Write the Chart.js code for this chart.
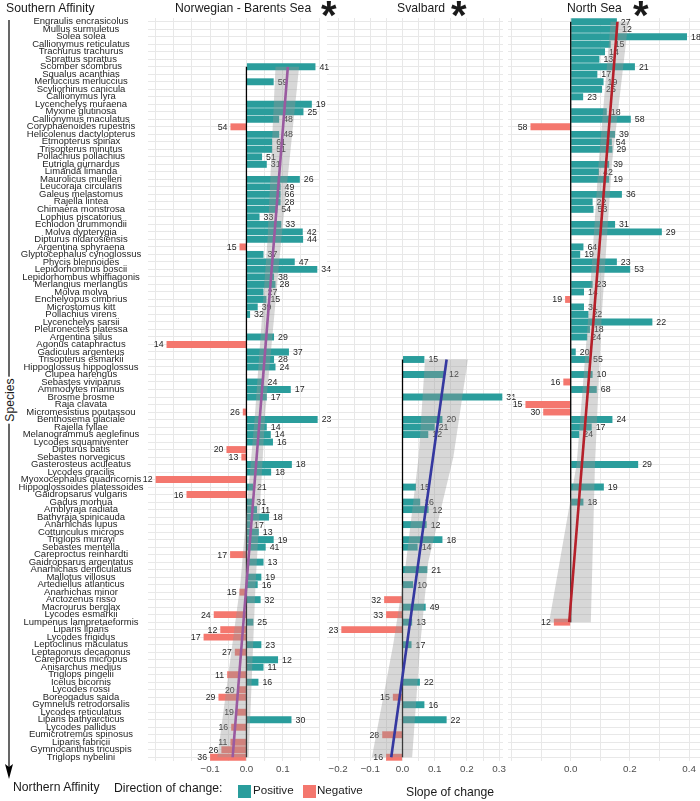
<!DOCTYPE html>
<html>
<head>
<meta charset="utf-8">
<script src="https://cdn.jsdelivr.net/npm/chart.js@4.4.1/dist/chart.umd.min.js"></script>
<style>
  body { margin: 0; background: #fff; }
  #page { position: relative; width: 700px; height: 801px; overflow: hidden; font-family: "Liberation Sans", Arial, sans-serif; color: #1a1a1a; }
  #page canvas { position: absolute; top: 0; }
  .txt { position: absolute; white-space: nowrap; font-size: 12.2px; line-height: 14px; }
  .star { position: absolute; top: -5px; font-size: 40px; font-weight: bold; line-height: 40px; }
  .key { position: absolute; width: 12.5px; height: 12.5px; top: 785px; }
</style>
</head>
<body>
<div id="page">
  <canvas id="nbChart" width="335" height="785" style="left:0"></canvas>
  <canvas id="svChart" width="211" height="785" style="left:312px"></canvas>
  <canvas id="nsChart" width="192" height="785" style="left:508px"></canvas>

  <svg style="position:absolute;left:0;top:0" width="20" height="790">
    <line x1="9" y1="20" x2="9" y2="770" stroke="#000" stroke-width="1.2"/>
    <path d="M5,764 L9,779 L13,764 L9,767 Z" fill="#000"/>
  </svg>
  <div class="txt" style="left:6px;top:1px">Southern Affinity</div>
  <div class="txt" style="left:-14px;top:393px;transform:rotate(-90deg);background:#fff;padding:0 2px">Species</div>
  <div class="txt" style="left:13px;top:780px">Northern Affinity</div>

  <div class="txt" style="left:175px;top:1px">Norwegian - Barents Sea</div>
  <div class="star" style="left:321px">*</div>
  <div class="txt" style="left:397px;top:1px">Svalbard</div>
  <div class="star" style="left:451px">*</div>
  <div class="txt" style="left:567px;top:1px">North Sea</div>
  <div class="star" style="left:633px">*</div>

  <div class="txt" style="left:114px;top:781px">Direction of change:</div>
  <div class="key" style="left:238px;background:#2A9D9C"></div>
  <div class="txt" style="left:253px;top:783px;font-size:11.6px">Positive</div>
  <div class="key" style="left:303px;background:#F4776E"></div>
  <div class="txt" style="left:317px;top:783px;font-size:11.6px">Negative</div>
  <div class="txt" style="left:406px;top:785px">Slope of change</div>
</div>

<script>
// species, ordered from southern to northern affinity
const species = [
  "Engraulis encrasicolus", "Mullus surmuletus", "Solea solea", "Callionymus reticulatus", "Trachurus trachurus",
  "Sprattus sprattus", "Scomber scombrus", "Squalus acanthias", "Merluccius merluccius", "Scyliorhinus canicula",
  "Callionymus lyra", "Lycenchelys muraena", "Myxine glutinosa", "Callionymus maculatus", "Coryphaenoides rupestris",
  "Helicolenus dactylopterus", "Etmopterus spinax", "Trisopterus minutus", "Pollachius pollachius", "Eutrigla gurnardus",
  "Limanda limanda", "Maurolicus muelleri", "Leucoraja circularis", "Galeus melastomus", "Rajella lintea",
  "Chimaera monstrosa", "Lophius piscatorius", "Echiodon drummondii", "Molva dypterygia", "Dipturus nidarosiensis",
  "Argentina sphyraena", "Glyptocephalus cynoglossus", "Phycis blennoides", "Lepidorhombus boscii", "Lepidorhombus whiffiagonis",
  "Merlangius merlangus", "Molva molva", "Enchelyopus cimbrius", "Microstomus kitt", "Pollachius virens",
  "Lycenchelys sarsii", "Pleuronectes platessa", "Argentina silus", "Agonus cataphractus", "Gadiculus argenteus",
  "Trisopterus esmarkii", "Hippoglossus hippoglossus", "Clupea harengus", "Sebastes viviparus", "Ammodytes marinus",
  "Brosme brosme", "Raja clavata", "Micromesistius poutassou", "Benthosema glaciale", "Rajella fyllae",
  "Melanogrammus aeglefinus", "Lycodes squamiventer", "Dipturus batis", "Sebastes norvegicus", "Gasterosteus aculeatus",
  "Lycodes gracilis", "Myoxocephalus quadricornis", "Hippoglossoides platessoides", "Gaidropsarus vulgaris", "Gadus morhua",
  "Amblyraja radiata", "Bathyraja spinicauda", "Anarhichas lupus", "Cottunculus microps", "Triglops murrayi",
  "Sebastes mentella", "Careproctus reinhardti", "Gaidropsarus argentatus", "Anarhichas denticulatus", "Mallotus villosus",
  "Artediellus atlanticus", "Anarhichas minor", "Arctozenus risso", "Macrourus berglax", "Lycodes esmarkii",
  "Lumpenus lampretaeformis", "Liparis liparis", "Lycodes frigidus", "Leptoclinus maculatus", "Leptagonus decagonus",
  "Careproctus micropus", "Anisarchus medius", "Triglops pingelii", "Icelus bicornis", "Lycodes rossi",
  "Boreogadus saida", "Gymnelus retrodorsalis", "Lycodes reticulatus", "Liparis bathyarcticus", "Lycodes pallidus",
  "Eumicrotremus spinosus", "Liparis fabricii", "Gymnocanthus tricuspis", "Triglops nybelini"
];

// Norwegian - Barents Sea
const nbSpecies = [
  "Scomber scombrus", "Merluccius merluccius", "Lycenchelys muraena", "Myxine glutinosa", "Callionymus maculatus",
  "Coryphaenoides rupestris", "Helicolenus dactylopterus", "Etmopterus spinax", "Trisopterus minutus", "Pollachius pollachius",
  "Eutrigla gurnardus", "Maurolicus muelleri", "Leucoraja circularis", "Galeus melastomus", "Rajella lintea",
  "Chimaera monstrosa", "Lophius piscatorius", "Echiodon drummondii", "Molva dypterygia", "Dipturus nidarosiensis",
  "Argentina sphyraena", "Glyptocephalus cynoglossus", "Phycis blennoides", "Lepidorhombus boscii", "Lepidorhombus whiffiagonis",
  "Merlangius merlangus", "Molva molva", "Enchelyopus cimbrius", "Microstomus kitt", "Pollachius virens",
  "Argentina silus", "Agonus cataphractus", "Gadiculus argenteus", "Trisopterus esmarkii", "Hippoglossus hippoglossus",
  "Sebastes viviparus", "Ammodytes marinus", "Brosme brosme", "Micromesistius poutassou", "Benthosema glaciale",
  "Rajella fyllae", "Melanogrammus aeglefinus", "Lycodes squamiventer", "Dipturus batis", "Sebastes norvegicus",
  "Gasterosteus aculeatus", "Lycodes gracilis", "Myoxocephalus quadricornis", "Hippoglossoides platessoides", "Gaidropsarus vulgaris",
  "Gadus morhua", "Amblyraja radiata", "Bathyraja spinicauda", "Anarhichas lupus", "Cottunculus microps",
  "Triglops murrayi", "Sebastes mentella", "Careproctus reinhardti", "Gaidropsarus argentatus", "Mallotus villosus",
  "Artediellus atlanticus", "Anarhichas minor", "Arctozenus risso", "Lycodes esmarkii", "Lumpenus lampretaeformis",
  "Liparis liparis", "Lycodes frigidus", "Leptoclinus maculatus", "Leptagonus decagonus", "Careproctus micropus",
  "Anisarchus medius", "Triglops pingelii", "Icelus bicornis", "Lycodes rossi", "Boreogadus saida",
  "Lycodes reticulatus", "Liparis bathyarcticus", "Lycodes pallidus", "Liparis fabricii", "Gymnocanthus tricuspis",
  "Triglops nybelini"
];
const nbSlope = [
  0.19, 0.075, 0.18, 0.157, 0.09, -0.044, 0.09, 0.071, 0.071, 0.043,
  0.056, 0.147, 0.094, 0.094, 0.094, 0.085, 0.036, 0.096, 0.155, 0.156,
  -0.019, 0.047, 0.133, 0.195, 0.076, 0.08, 0.047, 0.055, 0.031, 0.01,
  0.076, -0.22, 0.117, 0.076, 0.08, 0.047, 0.122, 0.056, -0.01, 0.196,
  0.056, 0.067, 0.073, -0.055, -0.014, 0.125, 0.068, -0.25, 0.018, -0.165,
  0.016, 0.029, 0.062, 0.01, 0.034, 0.075, 0.053, -0.045, 0.047, 0.041,
  0.031, -0.019, 0.039, -0.09, 0.019, -0.072, -0.118, 0.041, -0.032, 0.087,
  0.047, -0.053, 0.033, -0.024, -0.077, -0.026, 0.124, -0.042, -0.044, -0.069,
  -0.1
];
const nbCount = [
  41, 59, 19, 25, 48, 54, 48, 61, 51, 51,
  31, 26, 49, 66, 28, 54, 33, 33, 42, 44,
  15, 37, 47, 34, 38, 28, 27, 15, 39, 32,
  29, 14, 37, 28, 24, 24, 17, 17, 26, 23,
  14, 14, 16, 20, 13, 18, 18, 12, 21, 16,
  31, 11, 18, 17, 13, 19, 41, 17, 13, 19,
  16, 15, 32, 24, 25, 12, 17, 23, 27, 12,
  11, 11, 16, 20, 29, 19, 30, 16, 11, 26,
  36
];
const nbBandRows = ["Scomber scombrus", "Dipturus nidarosiensis", "Micromesistius poutassou", "Artediellus atlanticus", "Triglops nybelini"];
const nbBandLow = [0.080, 0.058, 0.024, -0.017, -0.080];
const nbBandHigh = [0.145, 0.096, 0.052, 0.025, 0.006];
const nbTrend = [0.114, -0.038];

// Svalbard
const svSpecies = [
  "Trisopterus esmarkii", "Clupea harengus", "Brosme brosme", "Benthosema glaciale", "Rajella fyllae",
  "Melanogrammus aeglefinus", "Hippoglossoides platessoides", "Gadus morhua", "Amblyraja radiata", "Anarhichas lupus",
  "Triglops murrayi", "Sebastes mentella", "Anarhichas denticulatus", "Artediellus atlanticus", "Arctozenus risso",
  "Macrourus berglax", "Lycodes esmarkii", "Lumpenus lampretaeformis", "Liparis liparis", "Leptoclinus maculatus",
  "Icelus bicornis", "Boreogadus saida", "Gymnelus retrodorsalis", "Liparis bathyarcticus", "Eumicrotremus spinosus",
  "Triglops nybelini"
];
const svSlope = [
  0.068, 0.132, 0.31, 0.124, 0.1, 0.08, 0.042, 0.055, 0.081, 0.075,
  0.124, 0.047, 0.077, 0.033, -0.057, 0.072, -0.051, 0.03, -0.19, 0.028,
  0.054, -0.03, 0.068, 0.137, -0.063, -0.051
];
const svCount = [
  15, 12, 31, 20, 21, 12, 15, 16, 12, 12,
  18, 14, 21, 10, 32, 49, 33, 13, 23, 17,
  22, 15, 16, 22, 28, 16
];
const svBandRows = ["Trisopterus esmarkii", "Sebastes norvegicus", "Gaidropsarus argentatus", "Leptoclinus maculatus", "Triglops nybelini"];
const svBandLow = [0.070, 0.050, 0.011, -0.029, -0.095];
const svBandHigh = [0.203, 0.158, 0.080, 0.055, 0.030];
const svTrend = [0.137, -0.035];

// North Sea
const nsSpecies = [
  "Engraulis encrasicolus", "Mullus surmuletus", "Solea solea", "Callionymus reticulatus", "Trachurus trachurus",
  "Sprattus sprattus", "Scomber scombrus", "Squalus acanthias", "Merluccius merluccius", "Scyliorhinus canicula",
  "Callionymus lyra", "Myxine glutinosa", "Callionymus maculatus", "Coryphaenoides rupestris", "Helicolenus dactylopterus",
  "Etmopterus spinax", "Trisopterus minutus", "Eutrigla gurnardus", "Limanda limanda", "Maurolicus muelleri",
  "Galeus melastomus", "Rajella lintea", "Chimaera monstrosa", "Echiodon drummondii", "Molva dypterygia",
  "Argentina sphyraena", "Glyptocephalus cynoglossus", "Phycis blennoides", "Lepidorhombus boscii", "Merlangius merlangus",
  "Molva molva", "Enchelyopus cimbrius", "Microstomus kitt", "Pollachius virens", "Lycenchelys sarsii",
  "Pleuronectes platessa", "Argentina silus", "Gadiculus argenteus", "Trisopterus esmarkii", "Clupea harengus",
  "Sebastes viviparus", "Ammodytes marinus", "Raja clavata", "Micromesistius poutassou", "Benthosema glaciale",
  "Rajella fyllae", "Melanogrammus aeglefinus", "Gasterosteus aculeatus", "Hippoglossoides platessoides", "Gadus morhua",
  "Lumpenus lampretaeformis"
];
const nsSlope = [
  0.156, 0.16, 0.393, 0.135, 0.116, 0.097, 0.217, 0.09, 0.111, 0.106,
  0.042, 0.122, 0.203, -0.136, 0.15, 0.139, 0.141, 0.13, 0.096, 0.13,
  0.173, 0.074, 0.077, 0.15, 0.308, 0.043, 0.032, 0.156, 0.201, 0.074,
  0.045, -0.019, 0.045, 0.06, 0.276, 0.065, 0.056, 0.017, 0.062, 0.074,
  -0.025, 0.088, -0.153, -0.093, 0.141, 0.071, 0.029, 0.228, 0.112, 0.043,
  -0.057
];
const nsCount = [
  27, 12, 18, 15, 14, 13, 21, 17, 19, 25,
  23, 18, 58, 58, 39, 54, 29, 39, 42, 19,
  36, 22, 53, 31, 29, 64, 19, 23, 53, 23,
  14, 19, 31, 22, 22, 18, 24, 20, 55, 10,
  16, 68, 15, 30, 24, 17, 24, 29, 19, 18,
  12
];
const nsBandRows = ["Engraulis encrasicolus", "Eutrigla gurnardus", "Pollachius virens", "Gasterosteus aculeatus", "Lumpenus lampretaeformis"];
const nsBandLow = [0.135, 0.094, 0.060, 0.020, -0.073];
const nsBandHigh = [0.195, 0.139, 0.105, 0.082, 0.068];
const nsTrend = [0.158, -0.005];

const FONT = '"Liberation Sans", Arial, sans-serif';
const POS = "#2A9D9C";
const NEG = "#F4776E";
const BAND = "rgba(150,150,150,0.38)";
const GRID = "#E8E8E8";

// species names are centred around x = 81
const measure = document.createElement("canvas").getContext("2d");
measure.font = "9.5px " + FONT;
const widest = Math.max(...species.map(s => measure.measureText(s).width));
const namePad = 148 - 81 - widest / 2;

/* COUNT LABELS next to each bar */
const countLabels = {
  id: "countLabels",
  afterDatasetDraw(chart, args) {
    const ds = chart.data.datasets[args.index];
    if (!ds.counts) return;
    const ctx = chart.ctx;
    ctx.save();
    ctx.font = "8.8px " + FONT;
    ctx.fillStyle = "#1f1f1f";
    ctx.textBaseline = "middle";
    args.meta.data.forEach((bar, i) => {
      if (ds.data[i].x >= 0) {
        ctx.textAlign = "left";
        ctx.fillText(ds.counts[i], bar.x + 4, bar.y + 0.5);
      } else {
        ctx.textAlign = "right";
        ctx.fillText(ds.counts[i], bar.x - 3, bar.y + 0.5);
      }
    });
    ctx.restore();
  }
};

function tickText(v, shown) {
  const r = Math.round(v * 100) / 100;
  if (!shown.some(s => Math.abs(s - r) < 1e-6)) return "";
  return (r < 0 ? "\u2212" : "") + Math.abs(r).toFixed(1);
}

function makePanel(id, p) {
  const first = p.names[0];
  const last = p.names[p.names.length - 1];
  const band = p.bandRows.map((n, i) => ({x: p.bandHigh[i], y: n}))
    .concat(p.bandRows.map((n, i) => ({x: p.bandLow[i], y: n})).reverse());

  return new Chart(document.getElementById(id), {
    type: "bar",
    data: {
      labels: species,
      datasets: [
        {
          type: "bar",
          data: p.names.map((n, i) => ({x: p.slopes[i], y: n})),
          counts: p.counts,
          backgroundColor: p.slopes.map(v => v >= 0 ? POS : NEG),
          barPercentage: 0.92,
          categoryPercentage: 1,
          clip: false,
          order: 4
        },
        {
          type: "line",
          data: [{x: 0, y: first}, {x: 0, y: last}],
          borderColor: "#000",
          borderWidth: 1.3,
          pointRadius: 0,
          order: 3
        },
        {
          type: "line",
          data: band,
          fill: "shape",
          backgroundColor: BAND,
          borderColor: "rgba(0,0,0,0)",
          borderWidth: 0,
          pointRadius: 0,
          order: 2
        },
        {
          type: "line",
          data: [{x: p.trend[0], y: first}, {x: p.trend[1], y: last}],
          borderColor: p.lineColor,
          borderWidth: 2.6,
          pointRadius: 0,
          order: 1
        }
      ]
    },
    options: {
      responsive: false,
      animation: false,
      indexAxis: "y",
      layout: {padding: {top: 18, right: p.padRight || 0, left: p.padLeft || 0, bottom: 0}},
      plugins: {legend: {display: false}, tooltip: {enabled: false}},
      scales: {
        x: {
          type: "linear",
          min: p.min,
          max: p.max,
          border: {display: false},
          grid: {color: GRID, lineWidth: 1, drawTicks: false},
          ticks: {
            stepSize: p.step,
            includeBounds: false,
            autoSkip: false,
            maxRotation: 0,
            padding: 2,
            color: "#4d4d4d",
            font: {family: FONT, size: 9.8},
            callback: v => tickText(v, p.shown)
          },
          afterFit: s => { s.height = 24; s.paddingLeft = 0; s.paddingRight = 0; }
        },
        y: {
          type: "category",
          offset: true,
          border: {display: false},
          grid: {color: GRID, offset: false, drawTicks: false},
          ticks: p.showNames ? {
            autoSkip: false,
            crossAlign: "center",
            padding: namePad,
            color: "#262626",
            font: {family: FONT, size: 9.5}
          } : {display: false},
          afterFit: s => { s.width = p.axisWidth; s.paddingTop = 0; s.paddingBottom = 0; }
        }
      }
    },
    plugins: [countLabels]
  });
}

makePanel("nbChart", {
  names: nbSpecies, slopes: nbSlope, counts: nbCount,
  bandRows: nbBandRows, bandLow: nbBandLow, bandHigh: nbBandHigh, trend: nbTrend,
  lineColor: "#9A5AA0", min: -0.271, max: 0.2025, step: 0.05, shown: [-0.1, 0, 0.1],
  showNames: true, axisWidth: 148, padRight: 15
});

makePanel("svChart", {
  names: svSpecies, slopes: svSlope, counts: svCount,
  bandRows: svBandRows, bandLow: svBandLow, bandHigh: svBandHigh, trend: svTrend,
  lineColor: "#3538A0", min: -0.2345, max: 0.3121, step: 0.05, shown: [-0.2, -0.1, 0, 0.1, 0.2, 0.3],
  showNames: false, axisWidth: 0, padLeft: 15, padRight: 20
});

makePanel("nsChart", {
  names: nsSpecies, slopes: nsSlope, counts: nsCount,
  bandRows: nsBandRows, bandLow: nsBandLow, bandHigh: nsBandHigh, trend: nsTrend,
  lineColor: "#B5202A", min: -0.212, max: 0.437, step: 0.1, shown: [0, 0.2, 0.4],
  showNames: false, axisWidth: 0
});
</script>
</body>
</html>
